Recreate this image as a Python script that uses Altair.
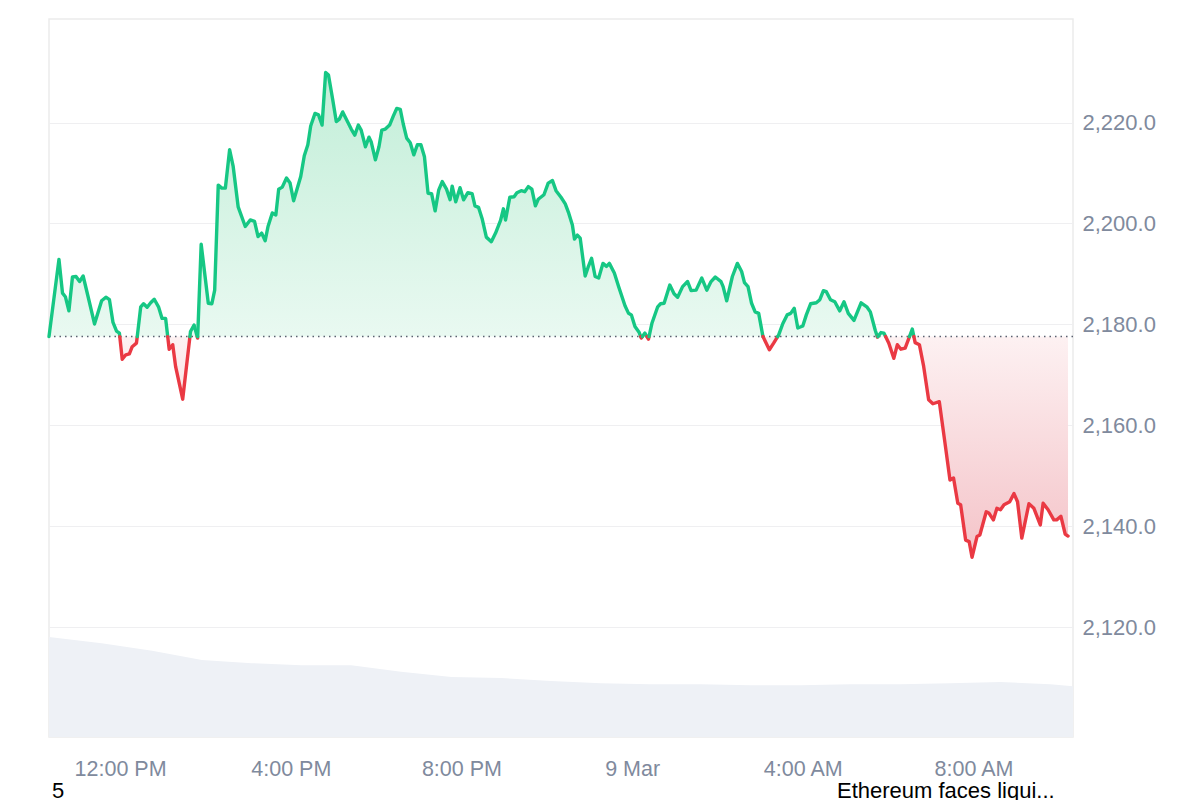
import altair as alt
import pandas as pd

START = pd.Timestamp("2025-03-08 10:20")
BASE = 2177.6
Y_MIN, Y_MAX = 2098.3, 2240.5

# minutes after 10:20 on 8 Mar, and ETH price
minutes = [0, 14, 19, 23, 28, 33, 38, 43, 48, 56, 64, 74, 80, 85, 90, 95, 99, 103, 108, 113,
           117, 123, 129, 133, 138, 143, 148, 154, 159, 164, 169, 174, 178, 188, 199, 204, 209, 214, 224, 229,
           233, 238, 243, 248, 254, 259, 266, 276, 283, 289, 294, 299, 304, 308, 314, 319, 323, 328, 334, 339,
           344, 354, 359, 364, 368, 374, 379, 384, 389, 393, 399, 404, 408, 413, 419, 425, 430, 435, 439, 445,
           450, 453, 459, 464, 468, 473, 479, 484, 489, 494, 498, 503, 508, 513, 518, 523, 528, 533, 538, 543,
           548, 553, 559, 564, 567, 572, 578, 583, 589, 595, 599, 604, 609, 615, 622, 628, 635, 639, 642, 648,
           654, 658, 664, 669, 674, 679, 684, 688, 696, 702, 708, 713, 720, 726, 731, 736, 739, 743, 747, 754,
           758, 763, 768, 773, 779, 784, 788, 795, 801, 810, 815, 819, 824, 830, 833, 838, 843, 848, 856, 860,
           865, 873, 879, 884, 891, 898, 903, 910, 918, 925, 931, 937, 945, 948, 953, 961, 968, 974, 978, 983,
           988, 993, 998, 1004, 1013, 1019, 1026, 1032, 1038, 1043, 1048, 1053, 1060, 1065, 1071, 1079, 1084, 1089, 1093, 1099,
           1105, 1112, 1118, 1124, 1132, 1142, 1150, 1155, 1162, 1165, 1170, 1174, 1181, 1188, 1193, 1198, 1204, 1214, 1218, 1224,
           1230, 1237, 1243, 1252, 1260, 1267, 1272, 1278, 1282, 1289, 1294, 1298, 1305, 1309, 1318, 1322, 1328, 1333, 1338, 1343,
           1351, 1357, 1362, 1368, 1378, 1385, 1394, 1398, 1405, 1413, 1417, 1423, 1429, 1433]

prices = [2177.6, 2192.9, 2186.2, 2185.5, 2182.7, 2189.4, 2189.5, 2188.5, 2189.6, 2184.9, 2180.1, 2184.7, 2185.4, 2184.9, 2180.4, 2178.7, 2178.3, 2173.1, 2174.0, 2174.2,
          2175.6, 2176.3, 2183.5, 2184.1, 2183.4, 2184.3, 2185.0, 2183.5, 2181.2, 2181.2, 2175.1, 2176.0, 2171.7, 2165.2, 2178.6, 2179.9, 2177.3, 2195.9, 2184.2, 2184.1,
          2186.8, 2207.6, 2207.0, 2207.0, 2214.6, 2211.3, 2203.3, 2199.4, 2200.7, 2200.4, 2197.4, 2198.1, 2196.6, 2199.4, 2202.1, 2201.7, 2206.8, 2207.2, 2209.0, 2208.0,
          2204.5, 2209.3, 2213.4, 2215.6, 2219.3, 2221.8, 2221.5, 2219.5, 2229.9, 2229.4, 2224.5, 2220.2, 2220.6, 2222.1, 2220.4, 2218.7, 2217.5, 2219.5, 2218.5, 2215.2,
          2217.1, 2216.2, 2212.6, 2215.2, 2218.5, 2218.7, 2219.5, 2221.2, 2222.8, 2222.6, 2219.8, 2216.9, 2216.0, 2213.6, 2215.6, 2215.6, 2213.2, 2206.0, 2205.9, 2202.5,
          2206.6, 2208.3, 2206.8, 2204.7, 2207.4, 2204.3, 2207.1, 2204.7, 2206.1, 2205.9, 2203.5, 2203.2, 2201.0, 2197.3, 2196.4, 2198.1, 2200.6, 2202.9, 2200.7, 2205.2,
          2205.3, 2206.1, 2206.5, 2206.3, 2207.3, 2206.8, 2203.5, 2204.8, 2205.7, 2208.0, 2208.5, 2206.5, 2205.2, 2203.9, 2202.0, 2199.7, 2196.9, 2197.7, 2197.1, 2189.6,
          2191.3, 2193.1, 2189.5, 2189.2, 2192.1, 2191.5, 2192.1, 2190.2, 2187.5, 2183.7, 2182.2, 2181.9, 2179.6, 2178.4, 2177.3, 2178.3, 2177.1, 2180.3, 2183.5, 2184.1,
          2184.2, 2187.8, 2186.1, 2185.4, 2187.5, 2188.5, 2186.7, 2186.8, 2189.2, 2186.8, 2188.5, 2189.4, 2188.5, 2187.5, 2184.7, 2189.5, 2192.1, 2190.5, 2188.3, 2187.5,
          2184.2, 2182.5, 2182.2, 2177.6, 2175.0, 2176.3, 2177.9, 2180.2, 2181.9, 2182.2, 2183.2, 2179.3, 2179.7, 2181.9, 2184.1, 2184.3, 2184.9, 2186.7, 2186.5, 2184.9,
          2184.5, 2182.7, 2184.5, 2182.2, 2180.8, 2184.3, 2183.5, 2182.5, 2178.8, 2177.5, 2178.4, 2178.3, 2176.3, 2173.3, 2176.0, 2175.1, 2175.3, 2179.1, 2176.4, 2176.0,
          2171.7, 2165.1, 2164.3, 2164.7, 2156.5, 2149.2, 2149.6, 2144.6, 2144.3, 2137.3, 2137.0, 2133.9, 2138.0, 2138.3, 2142.9, 2142.6, 2141.3, 2143.6, 2143.3, 2144.3,
          2144.9, 2146.5, 2144.9, 2137.7, 2144.5, 2143.6, 2140.3, 2144.6, 2143.3, 2141.3, 2141.3, 2142.0, 2138.5, 2138.1]

# volume band at the bottom (arbitrary units)
vol_minutes = [0, 74, 145, 215, 285, 355, 425, 495, 566, 636, 706, 776, 846, 916, 987, 1057, 1127, 1197, 1267, 1338, 1408, 1440]
vol_values = [19.5, 18.3, 16.8, 15.0, 14.4, 14.0, 14.0, 12.7, 11.7, 11.5, 10.9, 10.5, 10.3, 10.3, 10.1, 10.1, 10.3, 10.3, 10.5, 10.7, 10.3, 9.9]

y_ticks = [2120, 2140, 2160, 2180, 2200, 2220]
x_tick_days_hours = [(8, 12), (8, 16), (8, 20), (9, 0), (9, 4), (9, 8)]
footer_left = "5"
footer_right = "Ethereum faces liqui..."

GREEN, RED = "#16c784", "#ea3943"
LABEL_GRAY = "#808a9d"
FONT = "Liberation Sans"

# split the price line where it crosses the baseline
def side(p):
    return "up" if p >= BASE else "down"

rows = []
seg = 0
cur = side(prices[0])
rows.append((minutes[0], prices[0], seg, cur))
for i in range(1, len(prices)):
    m0, p0, m1, p1 = minutes[i - 1], prices[i - 1], minutes[i], prices[i]
    s1 = side(p1)
    if s1 != cur:
        f = (BASE - p0) / (p1 - p0) if p1 != p0 else 0.0
        mc = m0 + f * (m1 - m0)
        rows.append((mc, BASE, seg, cur))
        seg += 1
        cur = s1
        rows.append((mc, BASE, seg, cur))
    rows.append((m1, p1, seg, cur))

df = pd.DataFrame(rows, columns=["minute", "price", "seg", "dir"])
df["time"] = START + pd.to_timedelta(df["minute"], unit="m")
df["upper"] = df["price"].clip(lower=BASE)
df["lower"] = df["price"].clip(upper=BASE)
df["base"] = BASE

vol_df = pd.DataFrame({"minute": vol_minutes, "vol": vol_values})
vol_df["time"] = START + pd.to_timedelta(vol_df["minute"], unit="m")

x_enc = alt.X(
    "time:T",
    scale=alt.Scale(domain=[alt.DateTime(year=2025, month=3, date=8, hours=10, minutes=20),
                            alt.DateTime(year=2025, month=3, date=9, hours=10, minutes=20)]),
    axis=alt.Axis(
        values=[alt.DateTime(year=2025, month=3, date=d, hours=h) for d, h in x_tick_days_hours],
        labelExpr="hours(datum.value) == 0 ? timeFormat(datum.value, '%-d %b') : timeFormat(datum.value, '%-I:%M %p')",
        title=None, grid=False, ticks=False, domain=False,
        labelFontSize=21.5, labelColor=LABEL_GRAY, labelFont=FONT, labelPadding=21,
    ),
)

yscale = alt.Scale(domain=[Y_MIN, Y_MAX], nice=False, zero=False)
y_axis = alt.Axis(orient="right", values=y_ticks, format=",.1f", grid=True, gridColor="#efeff1",
                  ticks=False, domain=False, labelPadding=9, labelFontSize=22,
                  labelColor=LABEL_GRAY, labelFont=FONT, title=None)

green_grad = alt.Gradient(gradient="linear",
                          stops=[alt.GradientStop(color="#c2eed8", offset=0),
                                 alt.GradientStop(color="#e9f9f1", offset=1)],
                          x1=1, x2=1, y1=0, y2=1)
red_grad = alt.Gradient(gradient="linear",
                        stops=[alt.GradientStop(color="#fdf1f2", offset=0),
                               alt.GradientStop(color="#f4c3c8", offset=1)],
                        x1=1, x2=1, y1=0, y2=1)

vol = alt.Chart(vol_df).mark_area(color="#eef1f6").encode(
    x=x_enc, y=alt.Y("vol:Q", scale=alt.Scale(domain=[0, 140]), axis=None))

green_area = alt.Chart(df).mark_area(color=green_grad).encode(
    x=x_enc, y=alt.Y("upper:Q", scale=yscale, axis=y_axis), y2="base:Q")
red_area = alt.Chart(df).mark_area(color=red_grad).encode(
    x=x_enc, y=alt.Y("lower:Q", scale=yscale, axis=y_axis), y2="base:Q")

rule = alt.Chart(pd.DataFrame({"b": [BASE]})).mark_rule(
    color="#5a6170", strokeWidth=1.5, strokeDash=[1.5, 4]).encode(
    y=alt.Y("b:Q", scale=yscale, axis=y_axis))

line = alt.Chart(df).mark_line(strokeWidth=3.4, strokeJoin="round", strokeCap="round").encode(
    x=x_enc,
    y=alt.Y("price:Q", scale=yscale, axis=y_axis),
    color=alt.Color("dir:N", scale=alt.Scale(domain=["up", "down"], range=[GREEN, RED]), legend=None),
    detail="seg:N",
)

txt_left = alt.Chart(pd.DataFrame({"t": [footer_left]})).mark_text(
    align="left", baseline="alphabetic", fontSize=22, font=FONT, color="#000000").encode(
    x=alt.value(3), y=alt.value(779), text="t:N")
txt_right = alt.Chart(pd.DataFrame({"t": [footer_right]})).mark_text(
    align="left", baseline="alphabetic", fontSize=22, font=FONT, color="#000000").encode(
    x=alt.value(788), y=alt.value(779), text="t:N")

price_layers = alt.layer(green_area, red_area, rule, line, txt_left, txt_right)

chart = alt.layer(vol, price_layers).resolve_scale(y="independent").properties(
    width=1024, height=718,
    padding={"left": 39, "top": 11, "right": 5, "bottom": 0},
).configure_view(stroke="#ebebeb", strokeWidth=1.5)

chart.save("out.html", embed_options={"renderer": "svg", "actions": False})
